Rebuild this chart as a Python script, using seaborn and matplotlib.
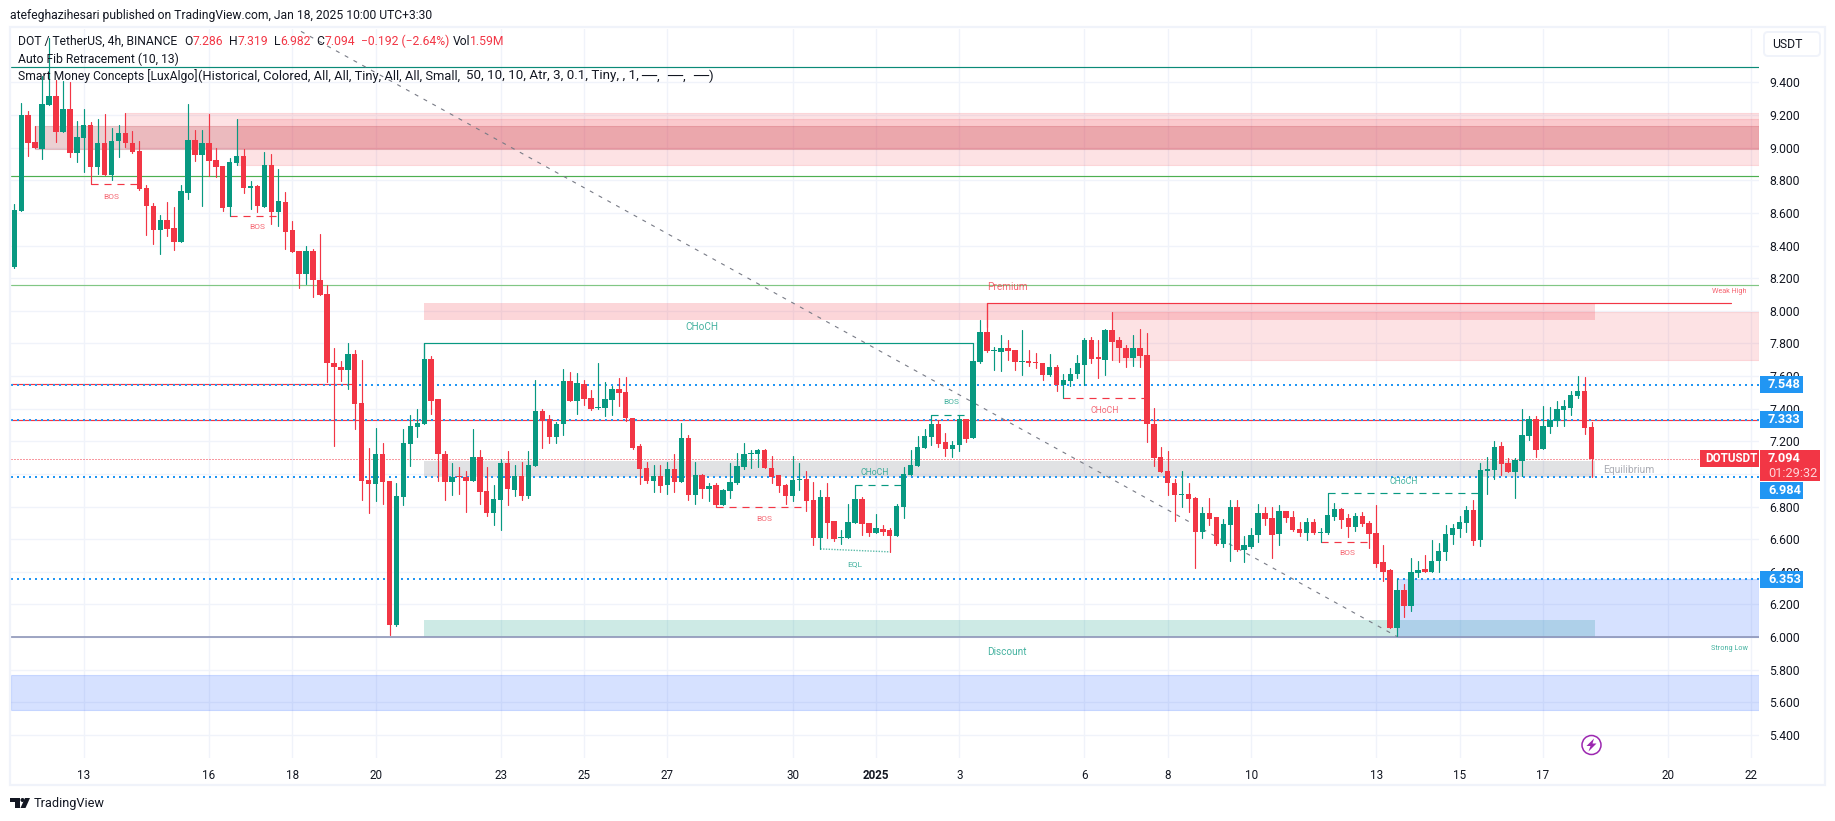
#%%
import numpy as np
import pandas as pd
import matplotlib
matplotlib.use('Agg')
import matplotlib.pyplot as plt
from matplotlib.patches import Rectangle, FancyBboxPatch, Circle, Polygon
import seaborn as sns

#%%
# DOT/USDT 4h candles
open_prices = [
    8.270, 8.614, 9.200, 9.033, 8.994, 9.264, 9.317, 9.098, 9.237, 8.969,
    9.061, 9.139, 8.883, 9.029, 8.834, 9.041, 9.090, 9.029, 8.980, 8.753,
    8.642, 8.497, 8.556, 8.507, 8.424, 8.724, 9.047, 8.957, 9.029, 8.924,
    8.888, 8.638, 8.908, 8.949, 8.755, 8.765, 8.638, 8.894, 8.608, 8.667,
    8.495, 8.366, 8.227, 8.366, 8.189, 8.104, 7.681, 7.656, 7.638, 7.736,
    7.435, 6.963, 6.941, 7.123, 6.957, 6.076, 6.861, 7.186, 7.290, 7.309,
    7.705, 7.462, 7.125, 6.953, 6.984, 6.984, 6.959, 7.106, 6.898, 6.763,
    6.843, 7.069, 6.904, 6.990, 6.867, 7.051, 7.388, 7.339, 7.229, 7.303,
    7.572, 7.450, 7.554, 7.468, 7.407, 7.407, 7.456, 7.523, 7.505, 7.345,
    7.174, 7.039, 6.959, 6.990, 6.935, 7.033, 6.953, 7.223, 6.873, 6.996,
    6.910, 6.935, 6.812, 6.898, 6.947, 7.045, 7.125, 7.119, 7.149, 7.039,
    6.996, 6.935, 6.867, 6.965, 6.971, 6.843, 6.610, 6.861, 6.714, 6.610,
    6.610, 6.702, 6.849, 6.702, 6.640, 6.665, 6.653, 6.622, 6.800, 6.996,
    7.051, 7.161, 7.229, 7.303, 7.198, 7.155, 7.180, 7.339, 7.223, 7.689,
    7.873, 7.756, 7.750, 7.775, 7.762, 7.689, 7.695, 7.689, 7.683, 7.609,
    7.658, 7.548, 7.572, 7.615, 7.670, 7.824, 7.719, 7.701, 7.885, 7.818,
    7.775, 7.713, 7.775, 7.732, 7.309, 7.106, 7.020, 6.947, 6.873, 6.879,
    6.855, 6.646, 6.763, 6.738, 6.573, 6.689, 6.800, 6.536, 6.554, 6.628,
    6.763, 6.732, 6.634, 6.775, 6.738, 6.665, 6.640, 6.708, 6.640, 6.640,
    6.736, 6.785, 6.730, 6.675, 6.742, 6.700, 6.638, 6.460, 6.411, 6.056,
    6.289, 6.191, 6.393, 6.417, 6.399, 6.467, 6.522, 6.626, 6.663, 6.700,
    6.779, 6.595, 7.018, 7.025, 7.172, 7.067, 7.012, 7.080, 7.233, 7.337,
    7.153, 7.288, 7.325, 7.392, 7.405, 7.478, 7.509, 7.286,
]
close_prices = [
    8.618, 9.200, 9.031, 8.996, 9.268, 9.317, 9.098, 9.237, 8.969, 9.065,
    9.139, 8.883, 9.029, 8.834, 9.041, 9.090, 9.027, 8.973, 8.747, 8.644,
    8.497, 8.556, 8.503, 8.424, 8.734, 9.047, 8.957, 9.029, 8.920, 8.883,
    8.632, 8.912, 8.949, 8.755, 8.763, 8.644, 8.894, 8.608, 8.673, 8.485,
    8.362, 8.227, 8.366, 8.191, 8.099, 7.677, 7.656, 7.638, 7.736, 7.431,
    6.959, 6.939, 7.123, 6.953, 6.076, 6.865, 7.190, 7.294, 7.313, 7.705,
    7.450, 7.121, 6.953, 6.978, 6.980, 6.959, 7.106, 6.892, 6.763, 6.849,
    7.069, 6.910, 6.990, 6.867, 7.057, 7.388, 7.327, 7.229, 7.309, 7.572,
    7.450, 7.560, 7.462, 7.401, 7.413, 7.462, 7.523, 7.499, 7.345, 7.161,
    7.033, 6.959, 6.990, 6.928, 7.033, 6.953, 7.223, 6.873, 6.996, 6.910,
    6.928, 6.812, 6.904, 6.953, 7.051, 7.119, 7.131, 7.149, 7.039, 6.984,
    6.928, 6.867, 6.965, 6.971, 6.836, 6.610, 6.861, 6.702, 6.603, 6.616,
    6.708, 6.849, 6.695, 6.640, 6.671, 6.646, 6.622, 6.806, 7.002, 7.057,
    7.168, 7.235, 7.303, 7.186, 7.155, 7.180, 7.339, 7.217, 7.695, 7.873,
    7.756, 7.762, 7.775, 7.756, 7.689, 7.695, 7.683, 7.683, 7.609, 7.658,
    7.548, 7.578, 7.615, 7.677, 7.818, 7.707, 7.707, 7.885, 7.811, 7.769,
    7.713, 7.775, 7.726, 7.303, 7.100, 7.014, 6.947, 6.873, 6.879, 6.849,
    6.646, 6.763, 6.726, 6.573, 6.695, 6.800, 6.536, 6.567, 6.628, 6.763,
    6.726, 6.628, 6.775, 6.732, 6.659, 6.640, 6.708, 6.640, 6.646, 6.751,
    6.785, 6.718, 6.675, 6.742, 6.693, 6.632, 6.448, 6.399, 6.056, 6.289,
    6.191, 6.399, 6.411, 6.399, 6.467, 6.528, 6.632, 6.669, 6.706, 6.779,
    6.589, 7.025, 7.031, 7.166, 7.061, 7.012, 7.086, 7.239, 7.337, 7.147,
    7.294, 7.331, 7.399, 7.417, 7.484, 7.509, 7.282, 7.094,
]
high_prices = [
    8.655, 9.274, 9.225, 9.133, 9.439, 9.670, 9.415, 9.409, 9.401, 9.164,
    9.237, 9.155, 9.176, 9.206, 9.119, 9.137, 9.213, 9.102, 9.041, 8.771,
    8.661, 8.587, 8.667, 8.636, 8.771, 9.268, 9.108, 9.108, 9.206, 8.998,
    8.888, 8.937, 9.176, 8.992, 8.796, 8.771, 8.973, 8.961, 8.869, 8.728,
    8.550, 8.366, 8.397, 8.379, 8.471, 8.159, 7.773, 7.693, 7.803, 7.760,
    7.699, 7.159, 7.282, 7.190, 6.957, 6.945, 7.276, 7.362, 7.399, 7.801,
    7.724, 7.462, 7.143, 7.069, 7.045, 7.020, 7.278, 7.149, 7.045, 6.935,
    7.094, 7.143, 7.057, 7.076, 7.143, 7.578, 7.399, 7.364, 7.321, 7.646,
    7.627, 7.621, 7.578, 7.517, 7.683, 7.566, 7.542, 7.591, 7.597, 7.345,
    7.186, 7.076, 7.057, 7.057, 7.076, 7.119, 7.315, 7.241, 7.076, 7.002,
    6.947, 6.947, 6.910, 7.069, 7.131, 7.192, 7.149, 7.155, 7.155, 7.112,
    6.996, 6.941, 7.112, 7.069, 7.020, 6.953, 6.904, 6.947, 6.714, 6.659,
    6.818, 6.935, 6.861, 6.702, 6.757, 6.689, 6.671, 6.818, 7.045, 7.149,
    7.235, 7.278, 7.364, 7.333, 7.253, 7.204, 7.364, 7.339, 7.803, 7.946,
    8.049, 7.781, 7.854, 7.824, 7.762, 7.885, 7.762, 7.744, 7.683, 7.738,
    7.670, 7.615, 7.652, 7.732, 7.836, 7.842, 7.824, 7.891, 7.995, 7.842,
    7.793, 7.854, 7.891, 7.867, 7.407, 7.168, 7.143, 6.971, 7.020, 6.947,
    6.861, 6.800, 6.855, 6.738, 6.726, 6.843, 6.843, 6.622, 6.671, 6.818,
    6.800, 6.800, 6.812, 6.775, 6.775, 6.708, 6.732, 6.726, 6.671, 6.883,
    6.822, 6.792, 6.755, 6.761, 6.767, 6.712, 6.810, 6.565, 6.417, 6.356,
    6.325, 6.485, 6.467, 6.503, 6.595, 6.577, 6.687, 6.693, 6.742, 6.804,
    6.841, 7.067, 7.104, 7.202, 7.196, 7.098, 7.098, 7.399, 7.356, 7.356,
    7.417, 7.411, 7.448, 7.454, 7.509, 7.601, 7.595, 7.319,
]
low_prices = [
    8.264, 8.614, 8.951, 8.996, 8.933, 9.264, 9.037, 9.098, 8.945, 8.914,
    8.853, 8.775, 8.839, 8.832, 8.802, 8.945, 9.006, 8.969, 8.740, 8.464,
    8.411, 8.350, 8.460, 8.375, 8.424, 8.687, 8.920, 8.644, 8.826, 8.818,
    8.614, 8.583, 8.896, 8.724, 8.624, 8.608, 8.638, 8.534, 8.520, 8.381,
    8.362, 8.142, 8.166, 8.086, 8.099, 7.566, 7.174, 7.570, 7.523, 7.278,
    6.843, 6.763, 6.836, 6.818, 6.015, 6.070, 6.812, 7.051, 7.229, 7.309,
    7.370, 6.959, 6.843, 6.873, 6.879, 6.769, 6.959, 6.818, 6.744, 6.689,
    6.659, 6.812, 6.867, 6.843, 6.855, 7.051, 7.161, 7.192, 7.192, 7.241,
    7.450, 7.370, 7.425, 7.394, 7.401, 7.358, 7.364, 7.419, 7.327, 7.155,
    6.941, 6.947, 6.886, 6.886, 6.879, 6.892, 6.953, 6.843, 6.818, 6.855,
    6.836, 6.798, 6.812, 6.855, 6.941, 7.033, 7.039, 7.045, 7.039, 6.947,
    6.892, 6.818, 6.836, 6.904, 6.775, 6.561, 6.540, 6.610, 6.591, 6.573,
    6.610, 6.702, 6.628, 6.622, 6.640, 6.628, 6.522, 6.622, 6.732, 6.996,
    7.051, 7.161, 7.180, 7.168, 7.112, 7.106, 7.143, 7.198, 7.223, 7.683,
    7.750, 7.640, 7.634, 7.701, 7.640, 7.609, 7.664, 7.652, 7.578, 7.603,
    7.511, 7.466, 7.542, 7.585, 7.548, 7.683, 7.591, 7.609, 7.701, 7.689,
    7.658, 7.664, 7.658, 7.198, 7.051, 7.014, 6.873, 6.714, 6.800, 6.769,
    6.426, 6.610, 6.689, 6.567, 6.554, 6.469, 6.530, 6.462, 6.548, 6.585,
    6.689, 6.487, 6.561, 6.708, 6.652, 6.622, 6.597, 6.634, 6.583, 6.634,
    6.718, 6.669, 6.614, 6.650, 6.681, 6.546, 6.430, 6.344, 6.056, 6.003,
    6.123, 6.160, 6.368, 6.399, 6.399, 6.399, 6.473, 6.571, 6.614, 6.644,
    6.565, 6.558, 6.877, 6.969, 6.994, 7.012, 6.853, 6.988, 7.208, 7.104,
    7.153, 7.251, 7.294, 7.294, 7.362, 7.466, 7.245, 6.982,
]

# axis
price_ticks = [5.4, 5.6, 5.8, 6.0, 6.2, 6.4, 6.6, 6.8, 7.0, 7.2, 7.4, 7.6, 7.8, 8.0, 8.2, 8.4, 8.6, 8.8, 9.0, 9.2, 9.4]
date_labels = ['13', '16', '18', '20', '23', '25', '27', '30', '2025', '3', '6', '8', '10', '13', '15', '17', '20', '22']
date_bars = [10, 28, 40, 52, 70, 82, 94, 112, 124, 136, 154, 166, 178, 196, 208, 220, 238, 250]

# price levels
blue_levels = [7.548, 7.333, 6.984, 6.353]
last_price = 7.094

UP = '#089981'
DOWN = '#f23645'
BLUE = '#2196f3'
GRID = '#f0f3fa'
TEXT = '#131722'

W, H = 1835, 821
LEFT, RIGHT, TOP, BOTTOM = 11, 1759, 29, 758

#%%
sns.set_theme(style='white', rc={'axes.edgecolor': 'white'})
plt.rcParams['font.family'] = ['Roboto', 'DejaVu Sans']

fig = plt.figure(figsize=(W / 100, H / 100), dpi=100, facecolor='white')
ax = fig.add_axes([LEFT / W, 1 - BOTTOM / H, (RIGHT - LEFT) / W, (BOTTOM - TOP) / H])

candles = pd.DataFrame({'bar': np.arange(len(open_prices)), 'open': open_prices, 'high': high_prices,
                        'low': low_prices, 'close': close_prices})
candles['side'] = np.where(candles['close'] >= candles['open'], 'up', 'down')
candles['body'] = (candles['close'] - candles['open']).abs().clip(lower=0.006)
candles['base'] = candles[['open', 'close']].min(axis=1)

# wicks
wicks = candles.melt(id_vars=['bar', 'side'], value_vars=['low', 'high'], value_name='price')
sns.lineplot(data=wicks, x='bar', y='price', units='bar', estimator=None, hue='side',
             palette={'up': UP, 'down': DOWN}, linewidth=0.85, legend=False, ax=ax, zorder=4)

# bodies
for side, color in [('up', UP), ('down', DOWN)]:
    part = candles[candles['side'] == side]
    sns.barplot(data=part, x='bar', y='body', bottom=part['base'].values, native_scale=True, color=color,
                saturation=1, width=0.78, linewidth=0, errorbar=None, ax=ax, zorder=5)

ax.set_xlim(-0.475, 251.1)
ax.set_ylim(5.258, 9.728)
ax.set_xlabel('')
ax.set_ylabel('')

ax.set_axisbelow(True)
ax.grid(True, color=GRID, linewidth=1.0)
ax.yaxis.tick_right()
ax.set_yticks(price_ticks, [f'{p:.3f}' for p in price_ticks])
ax.set_xticks(date_bars, date_labels)
ax.tick_params(axis='both', length=0, labelcolor=TEXT, labelsize=8.8)
ax.tick_params(axis='y', pad=7.5)
ax.tick_params(axis='x', pad=8, labelsize=8.4)
ax.get_xticklabels()[8].set_fontweight('bold')
for s in ax.spines.values():
    s.set_visible(False)

#%%
# supply / demand zones
def zone(start, top, bottom, color, alpha, end=251.1, edge=True):
    ax.add_patch(Rectangle((start, bottom), end - start, top - bottom, facecolor=color, alpha=alpha,
                           edgecolor=color if edge else 'none', linewidth=0.8, zorder=1))

zone(3, 9.133, 8.994, '#a82a35', 0.22)
zone(16, 9.213, 8.996, DOWN, 0.14)
zone(32, 9.176, 8.896, DOWN, 0.14)
zone(59, 8.049, 7.946, DOWN, 0.20, end=227.5, edge=False)
zone(158, 7.995, 7.701, DOWN, 0.14)
zone(59, 7.082, 6.982, '#787b86', 0.22, end=227.5, edge=False)
zone(59, 6.107, 6.0, UP, 0.20, end=227.5, edge=False)
zone(199, 6.353, 6.0, '#2962ff', 0.19)
zone(-0.475, 5.767, 5.551, '#2962ff', 0.19)

# horizontal levels
ax.axhline(9.493, color='#0b8a78', linewidth=0.85, zorder=2)
ax.axhline(8.824, color='#4caf50', linewidth=0.85, zorder=2)
ax.axhline(8.156, color='#81c784', linewidth=0.85, zorder=2)
ax.axhline(6.0, color='#8e96b8', linewidth=1.2, zorder=2)
ax.hlines(7.552, -0.475, 49, color=DOWN, linewidth=0.85, zorder=2)
ax.axhline(7.331, color=DOWN, linewidth=0.85, zorder=2)
for lvl in blue_levels:
    ax.axhline(lvl, color=BLUE, linewidth=1.44, linestyle=(0, (1, 2)), zorder=3)
ax.axhline(last_price, color=DOWN, linewidth=0.72, linestyle=(0, (1, 2)), zorder=3)

# auto fib trend line
ax.plot([40, 199], [9.743, 6.003], color='#787b86', linewidth=0.8, linestyle=(0, (3.6, 5.4)), zorder=3)

# structure lines
ax.plot([59, 59, 138], [7.7, 7.801, 7.801], color=UP, linewidth=0.85, zorder=3)
ax.plot([140, 140, 247], [7.9, 8.049, 8.049], color=DOWN, linewidth=0.85, zorder=3)
dash = (0, (6, 5))
for x0, x1, y0, color in [(11, 18, 8.775, DOWN), (31, 38, 8.583, DOWN), (101, 114, 6.798, DOWN),
                          (121, 128, 6.935, UP), (132, 138, 7.364, UP), (151, 163, 7.466, DOWN),
                          (188, 195, 6.583, DOWN), (189, 211, 6.883, UP)]:
    ax.plot([x0, x1], [y0, y0], color=color, linewidth=0.85, linestyle=dash, zorder=3)
ax.plot([116, 126], [6.540, 6.522], color='#5dbba9', linewidth=1.0, linestyle=(0, (1, 1)), zorder=3)

# SMC labels
def mark(x, y, s, color, size):
    ax.text(x, y, s, color=color, fontsize=size, ha='center', va='center', alpha=0.75, zorder=6)

for x, y, s, color in [(13.9, 8.700, 'BOS', DOWN), (34.9, 8.516, 'BOS', DOWN), (107.9, 6.722, 'BOS', DOWN),
                       (134.9, 7.439, 'BOS', UP), (191.9, 6.513, 'BOS', DOWN)]:
    mark(x, y, s, color, 6)
for x, y, s, color in [(123.9, 7.007, 'CHoCH', UP), (156.9, 7.390, 'CHoCH', DOWN), (199.9, 6.955, 'CHoCH', UP)]:
    mark(x, y, s, color, 6.2)
mark(120.9, 6.449, 'EQL', UP, 6)
mark(98.9, 7.901, 'CHoCH', UP, 7.2)
mark(142.9, 8.144, 'Premium', DOWN, 7.2)
mark(142.9, 5.908, 'Discount', UP, 7.2)
mark(246.8, 8.117, 'Weak High', DOWN, 5.2)
mark(246.8, 5.931, 'Strong Low', UP, 5.2)
ax.text(232.3, 7.026, 'Equilibrium', color='#9598a1', fontsize=7.4, ha='center', va='center', alpha=0.8, zorder=6)

#%%
# page furniture on a pixel axes
page = fig.add_axes([0, 0, 1, 1], facecolor='none')
page.set_xlim(0, W)
page.set_ylim(H, 0)
page.axis('off')

page.add_patch(Rectangle((10, 27.5), 1815, 758, fill=False, edgecolor=GRID, linewidth=1.6))

def px(price):
    return page.transData.inverted().transform(ax.transData.transform((0, price)))[1]

def tag(x0, x1, yc, h, color):
    page.add_patch(Rectangle((x0, yc - h / 2), x1 - x0, h, facecolor=color, edgecolor='none', zorder=3))

# blue price tags, 6.984 is pushed down under the last price tag
for lvl, shift in zip(blue_levels, [0, 0, 13.5, 0]):
    yc = px(lvl) + shift
    tag(1760, 1803, yc, 17, BLUE)
    page.text(1768, yc, f'{lvl:.3f}', color='white', fontsize=9.2, fontweight='bold', va='center', zorder=4)

tag(1760, 1820, 465.5, 31, DOWN)
page.text(1768, 458.6, f'{last_price:.3f}', color='white', fontsize=9.2, fontweight='bold', va='center', zorder=4)
page.text(1768, 473.6, '01:29:32', color='#ffd5d9', fontsize=9.2, va='center', zorder=4)
tag(1700, 1759, 458.5, 17, DOWN)
page.text(1705, 458.5, 'DOTUSDT', color='white', fontsize=8.4, fontweight='bold', va='center', zorder=4)

page.add_patch(FancyBboxPatch((1764, 32), 56, 24, boxstyle='round,pad=0,rounding_size=4', facecolor='white',
                              edgecolor=GRID, linewidth=1.4, zorder=3))
page.text(1772, 44.5, 'USDT', color=TEXT, fontsize=8.8, va='center', zorder=4)

# header and legend
page.text(10, 15, 'atefeghazihesari published on TradingView.com, Jan 18, 2025 10:00 UTC+3:30', color=TEXT,
          fontsize=8.7, va='center')
y1 = 41.5
page.text(18, y1, 'DOT / TetherUS, 4h, BINANCE', color=TEXT, fontsize=8.7, va='center')
for x, s, color in [(184, 'O', TEXT), (193, '7.286', DOWN), (229, 'H', TEXT), (238, '7.319', DOWN),
                    (274, 'L', TEXT), (280, '6.982', DOWN), (316, 'C', TEXT), (325, '7.094', DOWN),
                    (361, '−0.192 (−2.64%)', DOWN), (453, 'Vol', TEXT), (470, '1.59M', DOWN)]:
    page.text(x, y1, s, color=color, fontsize=8.7, va='center')
page.text(18, 59, 'Auto Fib Retracement (10, 13)', color=TEXT, fontsize=8.7, va='center')
page.text(18, 76, 'Smart Money Concepts [LuxAlgo]', color=TEXT, fontsize=8.7, va='center')
page.text(198, 76, '(Historical, Colored, All, All, Tiny, All, All, Small,', color=TEXT, fontsize=9.25, va='center')
page.text(466, 76, '50, 10, 10, Atr, 3, 0.1, Tiny, , 1,', color=TEXT, fontsize=9.6, va='center')
for x, s in [(641.5, '──,'), (667, '──,'), (693, '──)')]:
    page.text(x, 76, s, color=TEXT, fontsize=9.6, va='center')

# alert icon
page.add_patch(Circle((1591.5, 745), 9.5, fill=False, edgecolor='#9c27b0', linewidth=1.1, zorder=6))
page.add_patch(Polygon([(1594, 738.5), (1586.5, 746), (1590.5, 746), (1588.5, 751.5), (1596.5, 743.5),
                        (1592.5, 743.5)], facecolor='#9c27b0', edgecolor='none', zorder=6))

# TradingView logo
page.add_patch(Polygon([(10, 798), (20, 798), (20, 808), (15, 808), (15, 802), (10, 802)], facecolor=TEXT, edgecolor='none'))
page.add_patch(Circle((22.5, 800), 2, facecolor=TEXT, edgecolor='none'))
page.add_patch(Polygon([(25, 798), (30, 798), (25.5, 808), (20.5, 808)], facecolor=TEXT, edgecolor='none'))
page.text(33.5, 803.5, 'TradingView', color=TEXT, fontsize=9.2, va='center')

fig.savefig('out.png', dpi=100, facecolor='white')
